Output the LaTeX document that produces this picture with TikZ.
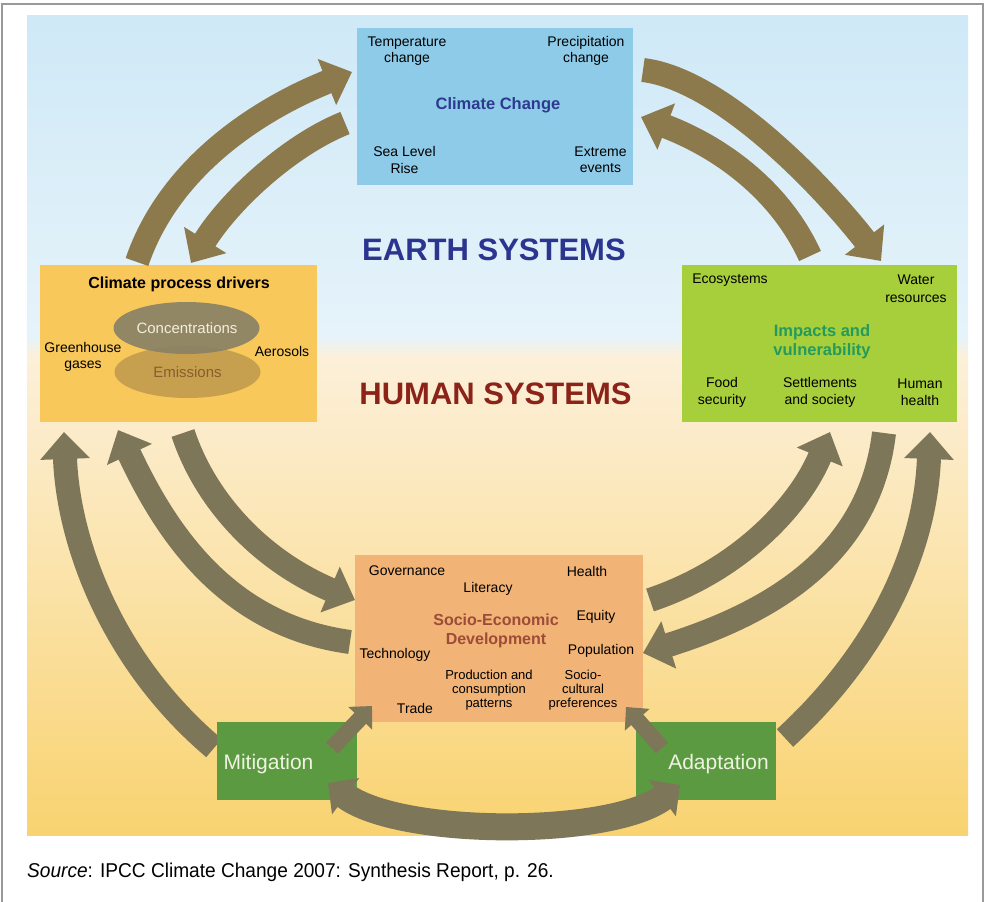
\documentclass[tikz,border=0pt]{standalone}
\usepackage{fontspec}
\setmainfont{Liberation Sans}
\usetikzlibrary{arrows.meta,shapes.geometric}
\definecolor{bgA}{HTML}{CFE9F7}
\definecolor{bgB}{HTML}{E6F3FA}
\definecolor{creamA}{HTML}{FCF0DA}
\definecolor{yelB}{HTML}{F9D371}
\definecolor{ccfill}{HTML}{8ECBE8}
\definecolor{drvfill}{HTML}{F9C85B}
\definecolor{impfill}{HTML}{A7CF3B}
\definecolor{sedfill}{HTML}{F1B376}
\definecolor{grnfill}{HTML}{5B9A40}
\definecolor{arrtop}{HTML}{8D7A4C}
\definecolor{arrbot}{HTML}{7E7658}
\definecolor{cctext}{HTML}{2E3A8F}
\definecolor{imptext}{HTML}{239A5E}
\definecolor{sedtext}{HTML}{9C4C38}
\definecolor{earthc}{HTML}{2B3590}
\definecolor{humanc}{HTML}{8B2318}
\definecolor{concfill}{HTML}{8A8266}
\definecolor{emisfill}{HTML}{C6A04E}
\definecolor{concText}{HTML}{F2EEDC}
\definecolor{emisText}{HTML}{8D5B30}
\definecolor{grnText}{HTML}{EEF3E2}
\begin{document}
\begin{tikzpicture}[x=1pt,y=-1pt]
\tikzset{
  box/.style={draw=none, inner sep=0pt},
  lbl/.style={inner sep=0pt, align=center, font=\fontsize{14}{16.5}\selectfont},
  lblsm/.style={inner sep=0pt, align=center, font=\fontsize{13}{13.8}\selectfont},
  heading/.style={inner sep=0pt, align=center, font=\fontsize{16.5}{19}\selectfont\bfseries},
  bigtitle/.style={inner sep=0pt, font=\fontsize{31}{34}\selectfont\bfseries},
  greenlbl/.style={inner sep=0pt, text=grnText, font=\fontsize{21}{23}\selectfont},
  bigarrow/.style={line width=24pt, -{Triangle[length=27pt,width=48pt]}},
  toparr/.style={bigarrow, draw=arrtop},
  botarr/.style={bigarrow, draw=arrbot},
  shortarr/.style={line width=16pt, draw=arrbot, -{Triangle[length=17pt,width=32pt]}},
  arcarr/.style={line width=27pt, draw=arrbot, {Triangle[length=22pt,width=44pt]}-{Triangle[length=22pt,width=44pt]}}
}
\useasboundingbox (0,0) rectangle (985,902);
\fill[white] (0,0) rectangle (985,902);
% frame
\draw[gray!80, line width=1.6pt] (2,910) -- (2,4) -- (983,4) -- (983,910);
% background
\shade[top color=bgA, bottom color=bgB] (27,15) rectangle (968,338);
\shade[top color=bgB, bottom color=creamA] (27,337.5) rectangle (968,356);
\shade[top color=creamA, bottom color=yelB] (27,355.5) rectangle (968,835);

% boxes
\node[box, fill=ccfill, minimum width=276pt, minimum height=157pt] (cc) at (495,106.5) {};
\node[box, fill=drvfill, minimum width=277pt, minimum height=157pt] (drv) at (178.5,343.5) {};
\node[box, fill=impfill, minimum width=275pt, minimum height=157pt] (imp) at (819.5,343.5) {};
\node[box, fill=sedfill, minimum width=288pt, minimum height=167pt] (sed) at (499,638.5) {};

% coordinates for connectors
\coordinate (a1s) at (137,262);  \coordinate (a1e) at (352,72);
\coordinate (a2s) at (345,123);  \coordinate (a2e) at (191,263);
\coordinate (a3s) at (643,70);   \coordinate (a3e) at (881,261);
\coordinate (a4s) at (810,256);  \coordinate (a4e) at (641,117);
\coordinate (a5s) at (183,433);  \coordinate (a5e) at (355,600);
\coordinate (a6s) at (350,642);  \coordinate (a6e) at (118,430);
\coordinate (a7s) at (214,748);  \coordinate (a7e) at (64,432);
\coordinate (a8s) at (650,600);  \coordinate (a8e) at (830,432);
\coordinate (a9s) at (884,433);  \coordinate (a9e) at (643,653);
\coordinate (a10s) at (785,738); \coordinate (a10e) at (930,432);

% top arrows (earth systems)
\draw[toparr] (a1s) .. controls (170,165) and (262,108) .. (a1e);
\draw[toparr] (a2s) .. controls (290,145) and (230,200) .. (a2e);
\draw[toparr] (a3s) .. controls (725,80) and (830,195) .. (a3e);
\draw[toparr] (a4s) .. controls (780,190) and (720,147) .. (a4e);
% lower arrows (human systems)
\draw[botarr] (a5s) .. controls (205,500) and (260,560) .. (a5e);
\draw[botarr] (a6s) .. controls (225,625) and (165,530) .. (a6e);
\draw[botarr] (a7s) .. controls (110,660) and (68,540) .. (a7e);
\draw[botarr] (a8s) .. controls (740,570) and (800,505) .. (a8e);
\draw[botarr] (a9s) .. controls (870,550) and (780,610) .. (a9e);
\draw[botarr] (a10s) .. controls (870,660) and (925,560) .. (a10e);

% mitigation / adaptation
\node[box, fill=grnfill, minimum width=140pt, minimum height=78pt] (mit) at (287,761) {};
\node[box, fill=grnfill, minimum width=140pt, minimum height=78pt] (ada) at (706,761) {};
\node[greenlbl] (mitl) at (268.5,764) {Mitigation};
\node[greenlbl] (adal) at (718.5,764) {Adaptation};

\coordinate (s1s) at (332,748); \coordinate (s1e) at (372,706);
\coordinate (s2s) at (662,748); \coordinate (s2e) at (626,707);
\coordinate (b1) at (328,783);  \coordinate (b2) at (680,785);
\draw[shortarr] (s1s) -- (s1e);
\draw[shortarr] (s2s) -- (s2e);
\draw[arcarr] (b1) .. controls (400,837) and (610,837) .. (b2);

% titles
\node[bigtitle, text=earthc] (earth) at (494,250) {EARTH SYSTEMS};
\node[bigtitle, text=humanc] (human) at (495.5,394) {HUMAN SYSTEMS};

% climate change texts
\node[lbl] (t1) at (407,51) {Temperature\\change};
\node[lbl] (t2) at (586,51) {Precipitation\\change};
\node[heading, text=cctext] (t3) at (498,105) {Climate Change};
\node[lbl] (t4) at (404.5,160) {Sea Level\\Rise};
\node[lbl] (t5) at (600.5,160) {Extreme\\events};

% drivers texts
\node[heading, font=\fontsize{16}{19}\selectfont\bfseries] (d1) at (179,284) {Climate process drivers};
\node[ellipse, fill=emisfill, minimum width=146pt, minimum height=52pt, inner sep=0pt] (emis) at (187.5,372) {};
\node[ellipse, fill=concfill, fill opacity=0.92, minimum width=146pt, minimum height=52pt, inner sep=0pt] (conc) at (186.5,328) {};
\node[lbl, font=\fontsize{15}{17}\selectfont, text=concText] (conct) at (187,328) {Concentrations};
\node[lbl, font=\fontsize{15}{17}\selectfont, text=emisText] (emist) at (187.5,372) {Emissions};
\node[lbl, font=\fontsize{14}{15.5}\selectfont] (d2) at (83,357) {Greenhouse\\gases};
\node[lbl] (d3) at (282,351) {Aerosols};

% impacts texts
\node[lbl] (i1) at (730,280) {Ecosystems};
\node[lbl, font=\fontsize{14}{18}\selectfont] (i2) at (916,289) {Water\\resources};
\node[heading, font=\fontsize{16.5}{19}\selectfont\bfseries, text=imptext] (i3) at (822,342) {Impacts and\\vulnerability};
\node[lbl, font=\fontsize{14}{17}\selectfont] (i4) at (722,392) {Food\\security};
\node[lbl, font=\fontsize{14}{17}\selectfont] (i5) at (820,392) {Settlements\\and society};
\node[lbl, font=\fontsize{14}{17}\selectfont] (i6) at (920,392) {Human\\health};

% socio-economic texts
\node[lbl] (e1) at (407,571) {Governance};
\node[lbl] (e2) at (488,589) {Literacy};
\node[lbl] (e3) at (587,571) {Health};
\node[heading, font=\fontsize{16}{19}\selectfont\bfseries, text=sedtext] (e4) at (496,631) {Socio-Economic\\Development};
\node[lbl] (e5) at (596,617) {Equity};
\node[lbl] (e6) at (395,655) {Technology};
\node[lbl] (e7) at (601,651) {Population};
\node[lblsm] (e8) at (489,690) {Production and\\consumption\\patterns};
\node[lblsm] (e9) at (583,690) {Socio-\\cultural\\preferences};
\node[lbl] (e10) at (415,708) {Trade};

% source
\node[inner sep=0pt, anchor=base west, font=\fontsize{20}{22}\selectfont] (src) at (27,877) {\scalebox{0.955}[1]{\textit{Source}: IPCC Climate Change 2007: Synthesis Report, p. 26.}};
\end{tikzpicture}
\end{document}
